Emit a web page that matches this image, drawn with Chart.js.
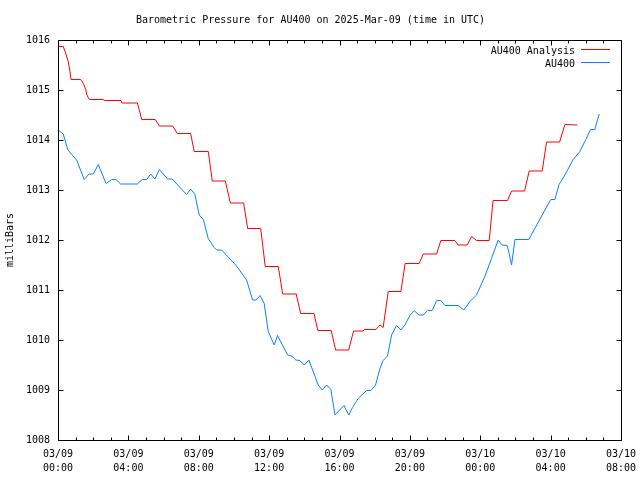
<!DOCTYPE html>
<html><head><meta charset="utf-8">
<script src="https://cdn.jsdelivr.net/npm/chart.js@4"></script>
<style>html,body{margin:0;padding:0;background:#fff}</style>
</head><body>
<canvas id="c" width="640" height="480" style="display:block;width:640px;height:480px"></canvas>
<script>
const titleText = 'Barometric Pressure for AU400 on 2025-Mar-09 (time in UTC)';
const yAxisLabel = 'milliBars';
const seriesNames = ['AU400 Analysis', 'AU400'];
const tickDates = ['03/09','03/09','03/09','03/09','03/09','03/09','03/10','03/10','03/10'];
const tickTimes = ['00:00','04:00','08:00','12:00','16:00','20:00','00:00','04:00','08:00'];

// hours since 03/09 00:00 UTC
const analysisHours = [0,0.30,0.45,0.58,0.68,0.74,1.29,1.44,1.58,1.64,1.78,2.57,2.64,3.58,3.64,4.51,4.76,5.53,5.76,6.52,6.78,7.54,7.74,8.54,8.77,9.51,9.80,10.55,10.78,11.52,11.78,12.52,12.77,13.54,13.79,14.55,14.77,15.53,15.78,16.52,16.80,17.35,17.41,18.07,18.30,18.48,18.77,19.49,19.73,20.53,20.76,21.52,21.76,22.56,22.74,23.26,23.51,23.79,24.51,24.73,25.55,25.78,26.52,26.78,27.52,27.77,28.51,28.81,29.53];
const analysisValues = [1015.87,1015.87,1015.72,1015.57,1015.37,1015.21,1015.21,1015.13,1015.01,1014.90,1014.81,1014.81,1014.79,1014.79,1014.74,1014.74,1014.41,1014.41,1014.28,1014.28,1014.13,1014.13,1013.77,1013.77,1013.18,1013.18,1012.74,1012.74,1012.23,1012.23,1011.47,1011.47,1010.92,1010.92,1010.53,1010.53,1010.19,1010.19,1009.80,1009.80,1010.18,1010.18,1010.21,1010.21,1010.30,1010.25,1010.97,1010.97,1011.53,1011.53,1011.72,1011.72,1011.99,1011.99,1011.90,1011.90,1012.07,1011.99,1011.99,1012.79,1012.79,1012.98,1012.98,1013.38,1013.38,1013.96,1013.96,1014.31,1014.30];

const stationHours = [0,0.30,0.55,0.78,1.06,1.49,1.76,2.01,2.29,2.73,3.05,3.30,3.56,4.51,4.79,5.04,5.27,5.51,5.76,6.23,6.49,7.31,7.54,7.78,8.03,8.26,8.54,8.88,9.02,9.30,10.15,10.72,11.06,11.25,11.49,11.72,11.95,12.29,12.48,13.05,13.28,13.52,13.75,13.99,14.26,14.79,15.02,15.27,15.51,15.74,16.25,16.53,16.74,17.06,17.54,17.78,18.05,18.30,18.48,18.73,18.96,19.24,19.49,19.72,20.00,20.24,20.51,20.76,21.01,21.27,21.52,21.76,21.99,22.74,23.07,23.41,23.79,24.26,24.64,25.02,25.24,25.53,25.64,25.78,25.97,26.76,27.10,27.52,28.01,28.24,28.48,28.81,29.28,29.66,30.00,30.27,30.51,30.76];
const stationValues = [1014.20,1014.12,1013.81,1013.71,1013.60,1013.21,1013.32,1013.32,1013.51,1013.13,1013.21,1013.21,1013.12,1013.12,1013.21,1013.21,1013.32,1013.22,1013.41,1013.22,1013.22,1012.91,1013.02,1012.91,1012.50,1012.41,1012.03,1011.85,1011.80,1011.80,1011.48,1011.20,1010.80,1010.80,1010.89,1010.73,1010.17,1009.90,1010.09,1009.70,1009.68,1009.60,1009.59,1009.50,1009.60,1009.10,1009.00,1009.10,1009.01,1008.50,1008.69,1008.50,1008.65,1008.83,1008.99,1008.99,1009.10,1009.43,1009.59,1009.68,1010.10,1010.29,1010.20,1010.30,1010.49,1010.59,1010.50,1010.50,1010.59,1010.59,1010.79,1010.79,1010.69,1010.69,1010.60,1010.77,1010.90,1011.27,1011.63,1012.00,1011.90,1011.89,1011.73,1011.50,1012.01,1012.01,1012.23,1012.50,1012.81,1012.81,1013.11,1013.30,1013.61,1013.77,1014.01,1014.21,1014.21,1014.52];

const FONT = '"DejaVu Sans Mono", "Liberation Mono", monospace';
const colors = ['#ff0000', '#0a80ff'];

const toPoints = (xs, ys) => xs.map((h, i) => ({x: h, y: ys[i]}));

const framePlugin = {
  id: 'frame',
  afterDraw(chart) {
    const {ctx, chartArea: a, scales: {x, y}} = chart;
    const L = Math.round(a.left) + 0.5, R = Math.round(a.right) + 0.5;
    const T = Math.round(a.top) + 0.5, B = Math.round(a.bottom) + 0.5;
    ctx.save();
    ctx.strokeStyle = '#000';
    ctx.lineWidth = 1;
    ctx.beginPath();
    ctx.rect(L, T, R - L, B - T);
    x.ticks.forEach(t => {
      const px = Math.round(x.getPixelForValue(t.value)) + 0.5;
      const len = (t.value % 4 === 0) ? 5 : 3;
      ctx.moveTo(px, B); ctx.lineTo(px, B - len);
      ctx.moveTo(px, T); ctx.lineTo(px, T + len);
    });
    y.ticks.forEach(t => {
      const py = Math.round(y.getPixelForValue(t.value)) + 0.5;
      ctx.moveTo(L, py); ctx.lineTo(L + 5, py);
      ctx.moveTo(R, py); ctx.lineTo(R - 5, py);
    });
    ctx.stroke();
    // legend (key) top-right inside plot
    ctx.font = '10px ' + FONT;
    ctx.textAlign = 'right';
    ctx.textBaseline = 'middle';
    chart.data.datasets.forEach((ds, i) => {
      const yy = Math.round(a.top + 9 + i * 13) + 0.5;
      ctx.fillStyle = '#000';
      ctx.fillText(ds.label, a.right - 46, yy + 1.5);
      ctx.strokeStyle = ds.borderColor;
      ctx.beginPath();
      ctx.moveTo(a.right - 40, yy);
      ctx.lineTo(a.right - 11, yy);
      ctx.stroke();
    });
    ctx.restore();
  }
};

new Chart(document.getElementById('c'), {
  type: 'line',
  data: {
    datasets: [
      {label: seriesNames[0], data: toPoints(analysisHours, analysisValues), borderColor: colors[0], borderWidth: 1, pointRadius: 0, tension: 0, fill: false},
      {label: seriesNames[1], data: toPoints(stationHours, stationValues), borderColor: colors[1], borderWidth: 1, pointRadius: 0, tension: 0, fill: false}
    ]
  },
  options: {
    responsive: false,
    animation: false,
    devicePixelRatio: 1,
    layout: {padding: {left: 0, right: 19, top: 0, bottom: 0}},
    plugins: {
      legend: {display: false},
      tooltip: {enabled: false},
      title: {display: true, text: titleText, color: '#000', font: {family: FONT, size: 10, weight: 'normal'}, padding: {top: 14, bottom: 14}}
    },
    scales: {
      x: {
        type: 'linear', min: 0, max: 32,
        grid: {display: false, drawTicks: false},
        border: {display: false},
        ticks: {
          stepSize: 1, autoSkip: false, maxRotation: 0, minRotation: 0, padding: 7,
          color: '#000', font: {family: FONT, size: 10, lineHeight: 1.4},
          callback: v => (v % 4 === 0) ? [tickDates[v / 4], tickTimes[v / 4]] : ''
        },
        afterFit: s => { s.height = 40; s.paddingLeft = 0; s.paddingRight = 0; }
      },
      y: {
        min: 1008, max: 1016,
        grid: {display: false, drawTicks: false},
        border: {display: false},
        ticks: {stepSize: 1, padding: 8, color: '#000', font: {family: FONT, size: 10}, callback: v => String(v)},
        title: {display: true, text: yAxisLabel, color: '#000', font: {family: FONT, size: 10}, padding: {top: 4, bottom: 0}},
        afterFit: s => { s.width = 58; s.paddingTop = 0; s.paddingBottom = 0; }
      }
    }
  },
  plugins: [framePlugin]
});
</script>
</body></html>
